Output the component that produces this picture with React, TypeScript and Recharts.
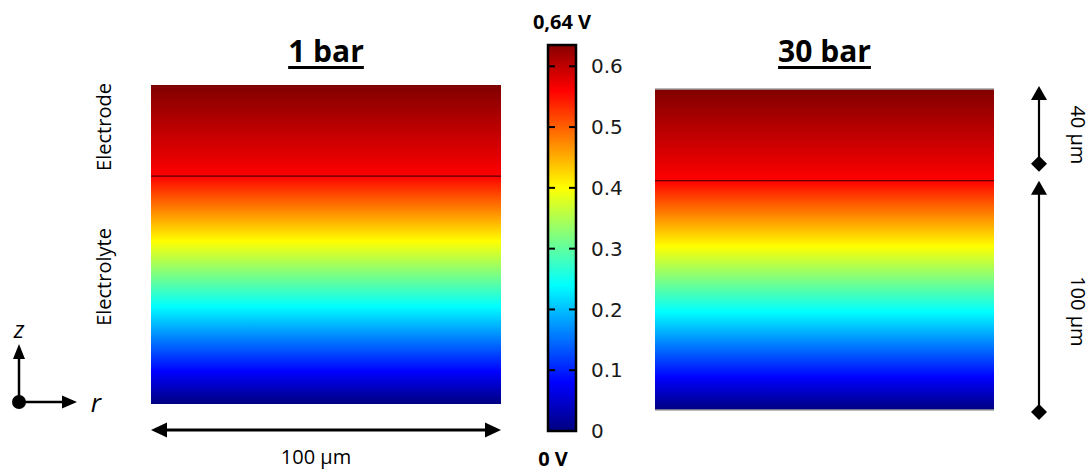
import React from "react";
import { ComposedChart, XAxis, YAxis, ReferenceArea, ReferenceLine } from "recharts";

// geometry of the simulated cell (µm): electrolyte 0–100, electrode 100–140
const zNodes = [0, 100, 140];
const rRange = [0, 100];
// electric potential (V) at zNodes
const potential1bar = [0, 0.56, 0.64];
const potential30bar = [0, 0.56, 0.64];

const colorbarTicks = [0, 0.1, 0.2, 0.3, 0.4, 0.5, 0.6];
const colorbarRange = [0, 0.635];
const jetMax = 0.64;

const titles = ["1 bar", "30 bar"];
const layerLabels = ["Electrolyte", "Electrode"];
const thicknessLabels = ["100 µm", "40 µm"];
const widthLabel = "100 µm";

const FONT = "'Open Sans', sans-serif";

const JET_KNOTS = [0, 0.125, 0.375, 0.625, 0.875, 1];
const JET_RGB = [
  [0, 0, 128],
  [0, 0, 255],
  [0, 255, 255],
  [255, 255, 0],
  [255, 0, 0],
  [128, 0, 0],
];

function jetColor(v: number) {
  const f = Math.max(0, Math.min(1, v / jetMax));
  for (let i = 0; i < JET_KNOTS.length - 1; i++) {
    if (f <= JET_KNOTS[i + 1]) {
      const t = (f - JET_KNOTS[i]) / (JET_KNOTS[i + 1] - JET_KNOTS[i]);
      const c = JET_RGB[i].map((a, k) => Math.round(a + (JET_RGB[i + 1][k] - a) * t));
      return `rgb(${c[0]},${c[1]},${c[2]})`;
    }
  }
  return "rgb(128,0,0)";
}

// gradient stops (top = offset 0) for a piecewise-linear profile v(z)
function gradientStops(z: number[], v: number[]) {
  const zTop = z[z.length - 1];
  const zBot = z[0];
  const stops: { offset: number; color: string }[] = [];
  for (let i = 0; i < z.length - 1; i++) {
    const lo = Math.min(v[i], v[i + 1]);
    const hi = Math.max(v[i], v[i + 1]);
    const inner = JET_KNOTS.map((k) => k * jetMax).filter((x) => x > lo && x < hi);
    [v[i], ...inner, v[i + 1]].forEach((val) => {
      const zz = v[i + 1] === v[i] ? z[i] : z[i] + ((val - v[i]) / (v[i + 1] - v[i])) * (z[i + 1] - z[i]);
      stops.push({ offset: (zTop - zz) / (zTop - zBot), color: jetColor(val) });
    });
  }
  return stops.sort((a, b) => a.offset - b.offset);
}

function Gradient({ id, stops }: { id: string; stops: { offset: number; color: string }[] }) {
  return (
    <linearGradient id={id} x1="0" y1="0" x2="0" y2="1">
      {stops.map((s, i) => (
        <stop key={i} offset={`${(s.offset * 100).toFixed(3)}%`} stopColor={s.color} />
      ))}
    </linearGradient>
  );
}

// double headed horizontal arrow, drawn below the segment
const widthArrow = (p: any) => {
  const y = p.y1 + 26;
  const xa = Math.min(p.x1, p.x2);
  const xb = Math.max(p.x1, p.x2);
  const mid = (xa + xb) / 2;
  return (
    <g>
      <line x1={xa + 10} y1={y} x2={xb - 10} y2={y} stroke="#000" strokeWidth={2.8} />
      <polygon points={`${xa},${y} ${xa + 16},${y - 7.5} ${xa + 16},${y + 7.5}`} fill="#000" />
      <polygon points={`${xb},${y} ${xb - 16},${y - 7.5} ${xb - 16},${y + 7.5}`} fill="#000" />
      <text x={mid - 10} y={y + 34} textAnchor="middle" fontFamily={FONT} fontSize={20} fill="#000">
        {widthLabel}
      </text>
    </g>
  );
};

// vertical arrow with diamond tail, right of the panel
const thicknessArrow = (label: string, topPad: number, botPad: number, labelShift: number) => (p: any) => {
  const x = p.x1 + 45;
  const yTop = Math.min(p.y1, p.y2) - topPad;
  const yBot = Math.max(p.y1, p.y2) + botPad;
  const mid = (Math.min(p.y1, p.y2) + Math.max(p.y1, p.y2)) / 2 + labelShift;
  return (
    <g>
      <line x1={x} y1={yTop + 8} x2={x} y2={yBot} stroke="#000" strokeWidth={2.2} />
      <polygon points={`${x},${yTop} ${x - 8},${yTop + 14} ${x + 8},${yTop + 14}`} fill="#000" />
      <polygon points={`${x},${yBot - 8} ${x + 8},${yBot} ${x},${yBot + 8} ${x - 8},${yBot}`} fill="#000" />
      <text
        transform={`translate(${x + 32}, ${mid}) rotate(90)`}
        textAnchor="middle"
        fontFamily={FONT}
        fontSize={20}
        fill="#000"
      >
        {label}
      </text>
    </g>
  );
};

// short ticks inside the colour bar, on both edges
const barTickMarks = (p: any) => {
  const xa = Math.min(p.x1, p.x2);
  const xb = Math.max(p.x1, p.x2);
  return (
    <g>
      <line x1={xa} y1={p.y1} x2={xa + 7} y2={p.y1} stroke="#000" strokeWidth={2} />
      <line x1={xb - 7} y1={p.y1} x2={xb} y2={p.y1} stroke="#000" strokeWidth={2} />
    </g>
  );
};

const BarTick = (props: any) => {
  const { x, y, payload } = props;
  return (
    <text x={x} y={y} dy="0.36em" textAnchor="start" fontFamily="'DejaVu Sans', sans-serif" fontSize={20} fill="#1a1a1a">
      {payload.value}
    </text>
  );
};

function Panel({
  potential,
  gradId,
  framed,
  children,
  ...size
}: {
  potential: number[];
  gradId: string;
  framed: boolean;
  children?: React.ReactNode;
  width: number;
  height: number;
  margin: { top: number; right: number; bottom: number; left: number };
}) {
  const rows = zNodes.map((z, i) => ({ z, v: potential[i] }));
  const zTop = zNodes[zNodes.length - 1];
  return (
    <ComposedChart width={size.width} height={size.height} margin={size.margin} data={rows}>
      <defs>
        <Gradient id={gradId} stops={gradientStops(zNodes, potential)} />
      </defs>
      <XAxis type="number" dataKey="v" domain={rRange} allowDataOverflow hide />
      <YAxis type="number" dataKey="z" domain={[zNodes[0], zTop]} allowDataOverflow hide />
      <ReferenceArea
        x1={rRange[0]}
        x2={rRange[1]}
        y1={zNodes[0]}
        y2={zTop}
        fill={`url(#${gradId})`}
        fillOpacity={1}
        stroke="none"
        ifOverflow="visible"
      />
      <ReferenceLine y={zNodes[1]} stroke="#5a0000" strokeWidth={1.3} ifOverflow="visible" />
      {framed && <ReferenceLine y={zTop} stroke="#a0a0a0" strokeWidth={1.5} ifOverflow="visible" />}
      {framed && <ReferenceLine y={zNodes[0]} stroke="#a0a0a0" strokeWidth={1.5} ifOverflow="visible" />}
      {children}
    </ComposedChart>
  );
}

const titleStyle = (center: number): React.CSSProperties => ({
  position: "absolute",
  left: center - 100,
  width: 200,
  top: 36,
  textAlign: "center",
  fontFamily: FONT,
  fontWeight: 700,
  fontSize: 30,
  lineHeight: "30px",
  color: "#000",
  textDecoration: "underline",
  textDecorationThickness: "3px",
  textUnderlineOffset: "4px",
});

export default function App() {
  const barStops = (() => {
    const top = colorbarRange[1];
    const vals = [0, ...JET_KNOTS.map((k) => k * jetMax).filter((x) => x > 0 && x < top), top];
    return vals
      .map((val) => ({ offset: (top - val) / top, color: jetColor(val) }))
      .sort((a, b) => a.offset - b.offset);
  })();
  const barRows = colorbarTicks.map((t) => ({ t }));

  return (
    <div style={{ position: "fixed", left: 0, top: 0, width: 1091, height: 472, background: "#fff", overflow: "hidden" }}>
      {/* 1 bar */}
      <div style={{ position: "absolute", left: 0, top: 0 }}>
        <Panel
          potential={potential1bar}
          gradId="grad1"
          framed={false}
          width={530}
          height={472}
          margin={{ top: 85, right: 29, bottom: 68, left: 151 }}
        >
          <ReferenceLine
            segment={[
              { x: rRange[0], y: zNodes[0] },
              { x: rRange[1], y: zNodes[0] },
            ]}
            ifOverflow="visible"
            shape={widthArrow}
          />
        </Panel>
      </div>

      {/* colour bar */}
      <div style={{ position: "absolute", left: 520, top: 0 }}>
        <ComposedChart width={130} height={472} margin={{ top: 45, right: 14, bottom: 41, left: 28 }} data={barRows}>
          <defs>
            <Gradient id="gradBar" stops={barStops} />
          </defs>
          <XAxis type="number" dataKey="t" domain={[0, 1]} allowDataOverflow hide />
          <YAxis
            type="number"
            orientation="right"
            dataKey="t"
            domain={colorbarRange}
            ticks={colorbarTicks}
            allowDataOverflow
            axisLine={false}
            tickLine={false}
            tickSize={0}
            tickMargin={15}
            width={60}
            tick={<BarTick />}
            interval={0}
          />
          <ReferenceArea
            x1={0}
            x2={1}
            y1={colorbarRange[0]}
            y2={colorbarRange[1]}
            fill="url(#gradBar)"
            fillOpacity={1}
            stroke="#000"
            strokeWidth={2.5}
            ifOverflow="visible"
          />
          {colorbarTicks.slice(1).map((t) => (
            <ReferenceLine key={t} y={t} ifOverflow="visible" shape={barTickMarks} />
          ))}
        </ComposedChart>
      </div>

      {/* 30 bar */}
      <div style={{ position: "absolute", left: 640, top: 0 }}>
        <Panel
          potential={potential30bar}
          gradId="grad30"
          framed={true}
          width={451}
          height={472}
          margin={{ top: 89, right: 97, bottom: 62, left: 15 }}
        >
          <ReferenceLine
            segment={[
              { x: rRange[1], y: zNodes[1] },
              { x: rRange[1], y: zNodes[2] },
            ]}
            ifOverflow="visible"
            shape={thicknessArrow(thicknessLabels[1], 3, -17, 0)}
          />
          <ReferenceLine
            segment={[
              { x: rRange[1], y: zNodes[0] },
              { x: rRange[1], y: zNodes[1] },
            ]}
            ifOverflow="visible"
            shape={thicknessArrow(thicknessLabels[0], 0, 2, 16)}
          />
        </Panel>
      </div>

      {/* titles */}
      <div style={titleStyle(326)}>{titles[0]}</div>
      <div style={titleStyle(824.5)}>{titles[1]}</div>

      {/* annotations */}
      <svg width={1091} height={472} style={{ position: "absolute", left: 0, top: 0, pointerEvents: "none" }}>
        <text transform="translate(111, 127) rotate(-90)" textAnchor="middle" fontFamily={FONT} fontSize={20} fill="#000">
          {layerLabels[1]}
        </text>
        <text transform="translate(111, 277) rotate(-90)" textAnchor="middle" fontFamily={FONT} fontSize={20} fill="#000">
          {layerLabels[0]}
        </text>
        <text x={562} y={29} textAnchor="middle" fontFamily={FONT} fontWeight={700} fontSize={20} fill="#000">
          0,64 V
        </text>
        <text x={553} y={466} textAnchor="middle" fontFamily={FONT} fontWeight={700} fontSize={20} fill="#000">
          0 V
        </text>
        {/* z / r axes glyph */}
        <line x1={19} y1={402} x2={19} y2={356} stroke="#000" strokeWidth={2.5} />
        <polygon points="19,344 13,359 25,359" fill="#000" />
        <line x1={19} y1={402} x2={64} y2={402} stroke="#000" strokeWidth={2.5} />
        <polygon points="77,402 62,395.5 62,408.5" fill="#000" />
        <circle cx={19} cy={402} r={7} fill="#000" />
        <text x={19} y={338} textAnchor="middle" fontFamily={FONT} fontStyle="italic" fontSize={24} fill="#000">
          z
        </text>
        <text x={96} y={412} textAnchor="middle" fontFamily={FONT} fontStyle="italic" fontSize={26} fill="#000">
          r
        </text>
      </svg>
    </div>
  );
}
